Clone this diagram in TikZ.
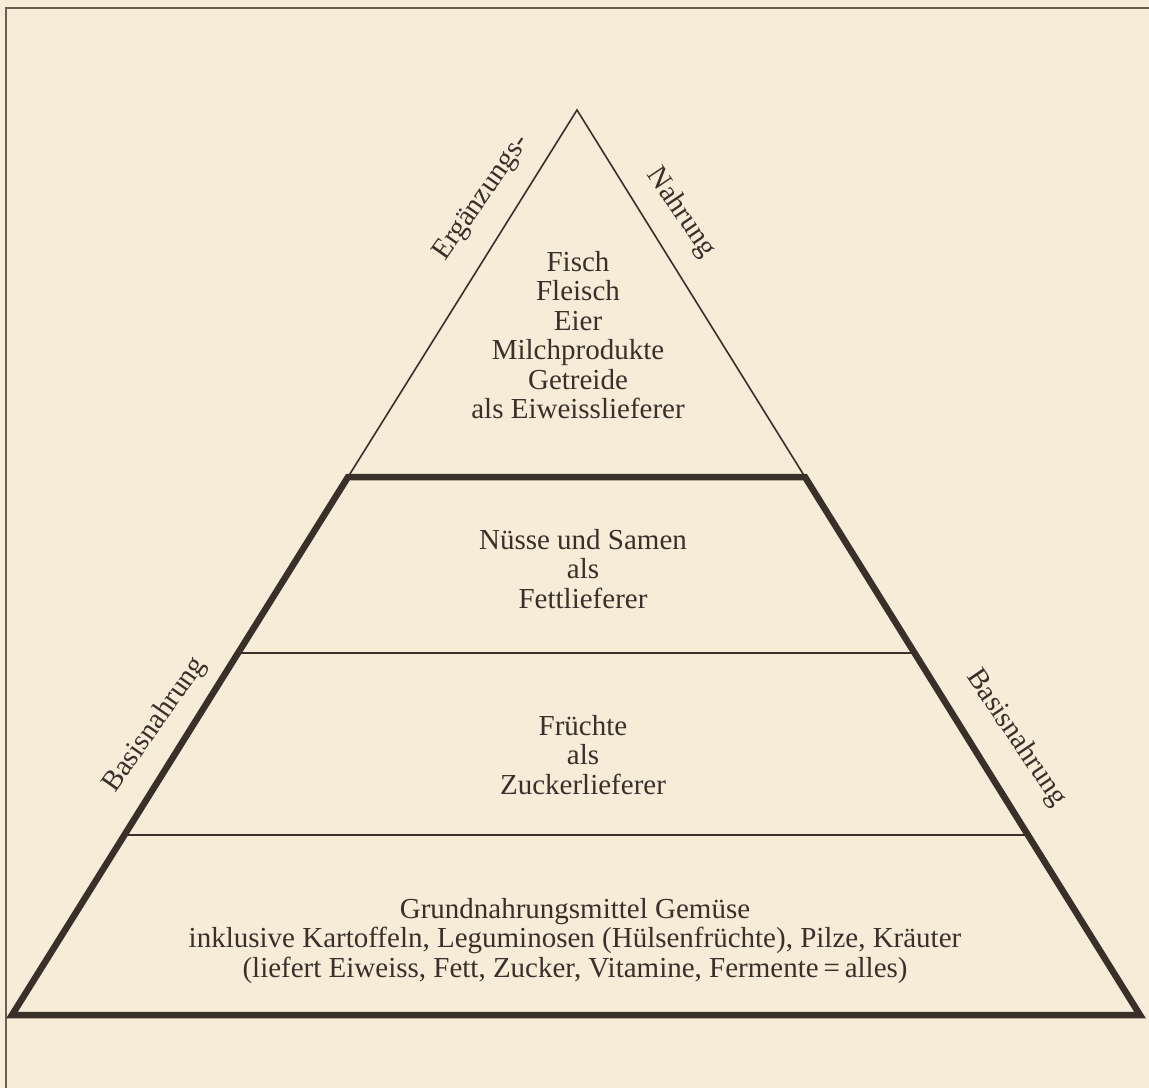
\documentclass[tikz,border=0pt]{standalone}
\usepackage{fontspec}
\setmainfont{Liberation Serif}
\definecolor{paper}{RGB}{246,236,216}
\definecolor{inkc}{RGB}{58,48,42}
\definecolor{framec}{RGB}{105,95,85}
\begin{document}
\begin{tikzpicture}[x=1pt,y=-1pt,
  thinline/.style={draw=inkc, line width=1.6pt, line cap=round, line join=miter},
  thickline/.style={draw=inkc, line width=6.5pt, line join=miter},
  frameline/.style={draw=framec, line width=1.4pt},
  lbl/.style={text=inkc, font=\fontsize{29}{29.5}\selectfont, inner sep=0pt},
  block/.style={lbl, align=center}]
\fill[paper] (0,0) rectangle (1149,1088);
\useasboundingbox (0,0) rectangle (1149,1088);
% frame
\coordinate (fbl) at (6,1088);
\coordinate (ftl) at (6,8);
\coordinate (ftr) at (1149,8);
\draw[frameline] (fbl) -- (ftl) -- (ftr);
% pyramid
\coordinate (apex) at (577,110);
\coordinate (L1) at (348,477);
\coordinate (R1) at (805,477);
\coordinate (L2) at (238,653);
\coordinate (R2) at (915,653);
\coordinate (L3) at (125,835);
\coordinate (R3) at (1028,835);
\coordinate (L0) at (12,1015);
\coordinate (R0) at (1140,1015);
\draw[thinline] (L1) -- (apex) -- (R1);
\draw[thinline] (L2) -- (R2);
\draw[thinline] (L3) -- (R3);
\draw[thickline] (L1) -- (R1) -- (R0) -- (L0) -- cycle;
% side labels
\node[lbl, rotate=55] (erg) at (482,198) {Ergänzungs-};
\node[lbl, rotate=-56] (nahr) at (681,213) {Nahrung};
\node[lbl, rotate=55] (basisL) at (155,725) {Basisnahrung};
\node[lbl, rotate=-56] (basisR) at (1016,738) {Basisnahrung};
% level texts
\node[block] (top) at (578,335) {Fisch\\Fleisch\\Eier\\Milchprodukte\\Getreide\\als Eiweisslieferer};
\node[block] (fett) at (583,569) {Nüsse und Samen\\als\\Fettlieferer};
\node[block] (zucker) at (583,755) {Früchte\\als\\Zuckerlieferer};
\node[block] (basis) at (575,941) {Grundnahrungsmittel Gemüse\\inklusive Kartoffeln, Leguminosen (Hülsenfrüchte), Pilze, Kräuter\\(liefert Eiweiss, Fett, Zucker, Vitamine, Fermente\,=\,alles)};
\end{tikzpicture}
\end{document}
